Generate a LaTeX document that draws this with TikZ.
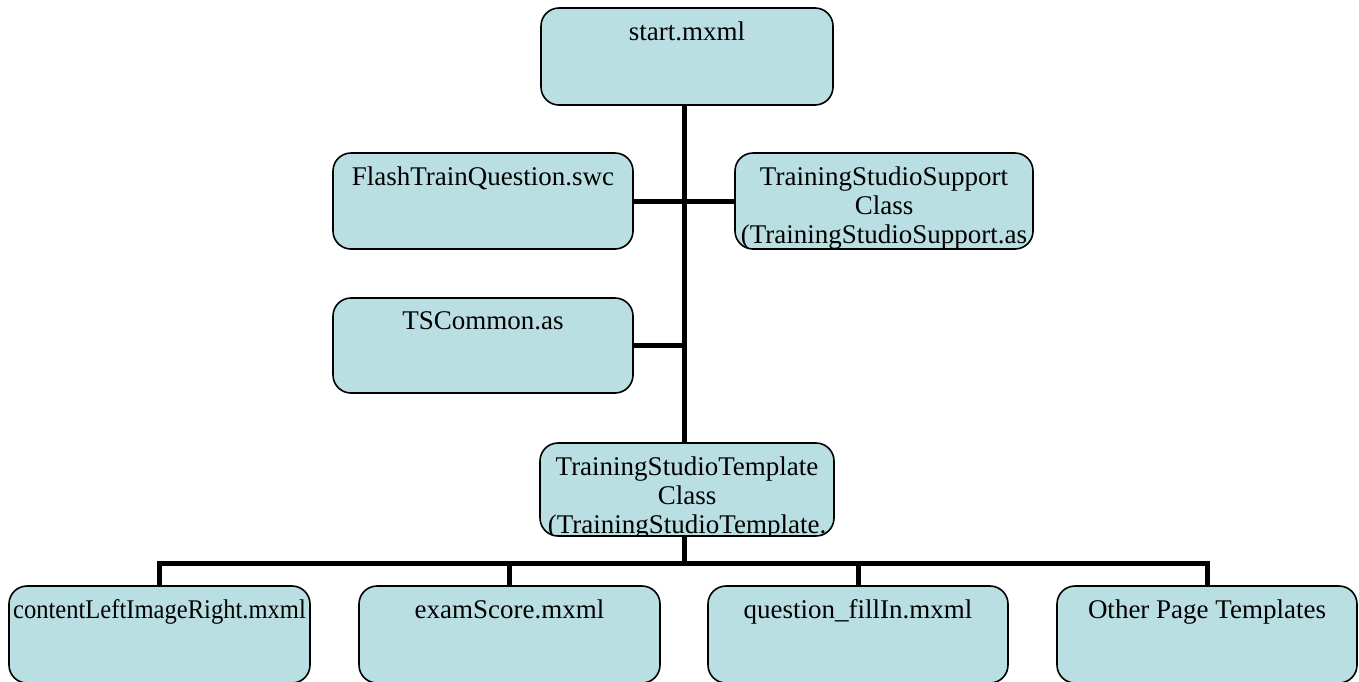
\documentclass[tikz,border=0pt]{standalone}
\usepackage{fontspec}
\setmainfont{Liberation Serif}
\definecolor{boxfill}{RGB}{185,223,227}
\tikzset{
  boxbg/.style={fill=boxfill, rounded corners=18pt, inner sep=0pt, outer sep=0pt},
  boxedge/.style={draw=black, line width=1.6pt, rounded corners=18pt},
  boxtext/.style={anchor=north, inner sep=0pt, align=center, font=\fontsize{27}{29}\selectfont},
  link/.style={draw=black, line width=5pt},
}
\newcommand\mybox[6]{%
  \node[boxbg, minimum width={#4pt-#2pt}, minimum height={#5pt-#3pt}] (#1) at ({(#2+#4)/2},{(#3+#5)/2}) {};
  \begin{scope}
    \clip[rounded corners=18pt] (#1.south west) rectangle (#1.north east);
    \node[boxtext] (#1t) at ([yshift=-13.5pt]#1.north) {#6};
  \end{scope}
  \draw[boxedge] (#1.south west) rectangle (#1.north east);
}
\begin{document}
\begin{tikzpicture}[x=1pt,y=-1pt]
\useasboundingbox (0,0) rectangle (1359,681);
\coordinate (tx) at (684,0);
\coordinate (bus) at (684,563);
\mybox{top}{541}{8}{833}{105}{start.mxml}
\mybox{flash}{333}{153}{633}{249}{FlashTrainQuestion.swc}
\mybox{support}{735}{153}{1033}{249}{TrainingStudioSupport\\Class\\(TrainingStudioSupport.as}
\mybox{tsc}{333}{298}{633}{393}{TSCommon.as}
\mybox{tmpl}{540}{443}{834}{536}{TrainingStudioTemplate\\Class\\(TrainingStudioTemplate.}
\mybox{b1}{9}{586}{310}{683}{\scalebox{0.91}[1]{contentLeftImageRight.mxml}}
\mybox{b2}{359}{586}{660}{683}{examScore.mxml}
\mybox{b3}{708}{586}{1008}{683}{question\_fillIn.mxml}
\mybox{b4}{1057}{586}{1357}{683}{Other Page Templates}
\draw[link] (top.south -| tx) -- (tmpl.north -| tx);
\draw[link] (flash.east) -- (support.west);
\draw[link] (tsc.east) -- (tsc.east -| tx);
\draw[link] (tmpl.south -| tx) -- (bus);
\draw[link, line join=miter] (b1.north) -- (b1.north |- bus) -- (b4.north |- bus) -- (b4.north);
\draw[link] (b2.north |- bus) -- (b2.north);
\draw[link] (b3.north |- bus) -- (b3.north);
\end{tikzpicture}
\end{document}
